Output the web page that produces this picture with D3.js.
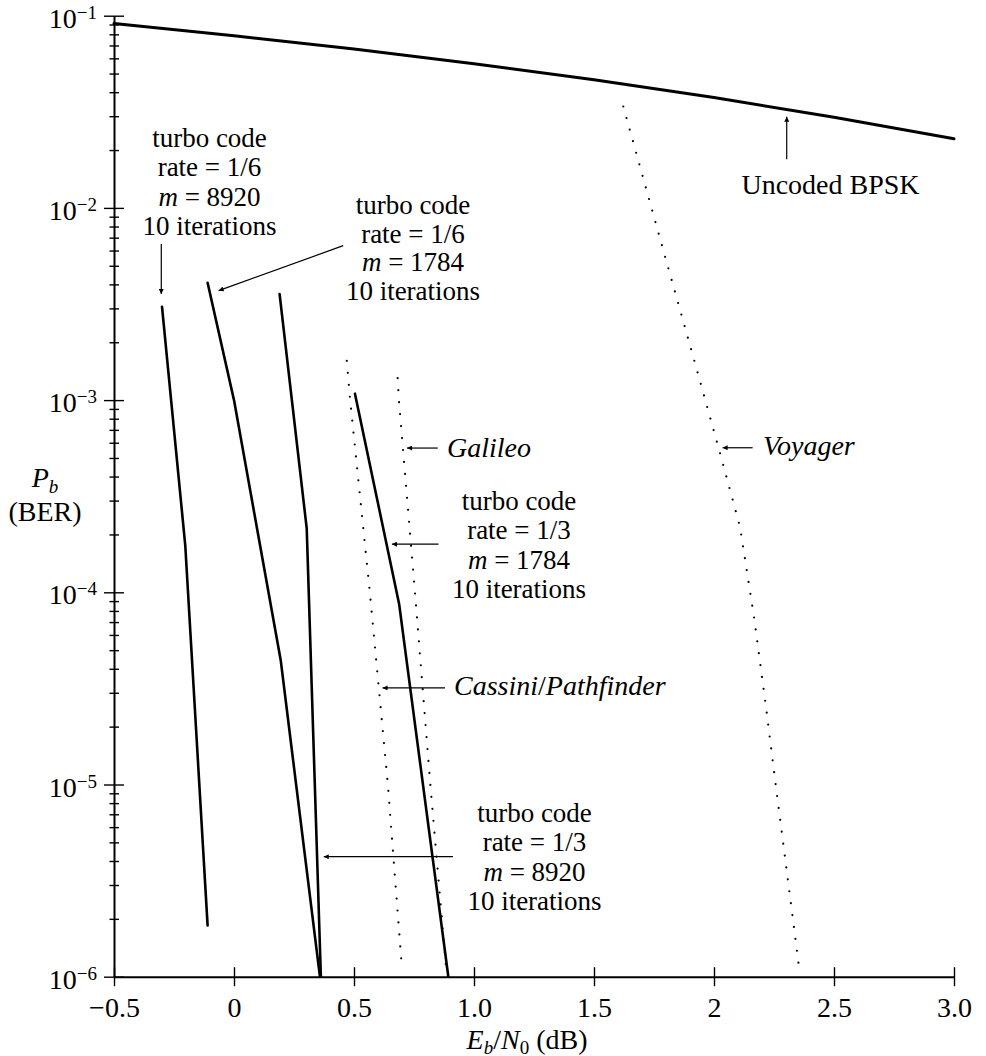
<!DOCTYPE html>
<html>
<head>
<meta charset="utf-8">
<script src="https://cdn.jsdelivr.net/npm/d3@7"></script>
<style>
  body { margin: 0; background: #fff; }
  svg text { font-family: "Liberation Serif", "Times New Roman", serif; fill: #000; }
</style>
</head>
<body>
<div id="root"></div>
<script>
// values: Eb/N0 in dB, bit error rate
const bpskEbN0 = [-0.5, 0, 0.5, 1.0, 1.5, 2.0, 2.5, 3.0];
const bpskBer = [0.091, 0.0786, 0.0671, 0.0563, 0.0464, 0.0375, 0.0296, 0.0229];

const turbo6m8920EbN0 = [-0.3, -0.203, -0.11];
const turbo6m8920Ber = [3.06e-3, 1.75e-4, 1.85e-6];

const turbo6m1784EbN0 = [-0.11, 0.0, 0.195, 0.358];
const turbo6m1784Ber = [4.08e-3, 1.0e-3, 4.4e-5, 1.0e-6];

const turbo3m8920EbN0 = [0.19, 0.303, 0.362];
const turbo3m8920Ber = [3.56e-3, 2.15e-4, 1.0e-6];

const turbo3m1784EbN0 = [0.504, 0.688, 0.893];
const turbo3m1784Ber = [1.08e-3, 8.7e-5, 1.0e-6];

const cassiniEbN0 = [0.47, 0.484, 0.566, 0.641, 0.70];
const cassiniBer = [1.6e-3, 1.0e-3, 1.0e-4, 1.0e-5, 1.1e-6];

const galileoEbN0 = [0.682, 0.687, 0.754, 0.818, 0.884];
const galileoBer = [1.3e-3, 1.0e-3, 1.0e-4, 1.0e-5, 1.1e-6];

const voyagerEbN0 = [1.622, 1.789, 1.914, 2.025, 2.108, 2.167, 2.219, 2.261, 2.317, 2.355];
const voyagerBer = [0.0337, 6.0e-3, 1.67e-3, 5.3e-4, 2.2e-4, 7.4e-5, 2.4e-5, 9.1e-6, 2.6e-6, 1.1e-6];

const xTicks = [-0.5, 0, 0.5, 1.0, 1.5, 2.0, 2.5, 3.0];
const xTickLabels = ["\u22120.5", "0", "0.5", "1.0", "1.5", "2", "2.5", "3.0"];

const width = 986;
const height = 1056;

const svg = d3
  .select("#root")
  .append("svg")
  .attr("width", width)
  .attr("height", height)
  .attr("viewBox", [0, 0, width, height]);

const x = d3.scaleLinear().domain([-0.5, 3.0]).range([114, 954]);
const y = d3.scaleLog().domain([1e-6, 1e-1]).range([976.7, 15.7]);

// arrowhead
svg
  .append("defs")
  .append("marker")
  .attr("id", "arrow")
  .attr("viewBox", "0 0 10 10")
  .attr("refX", 10)
  .attr("refY", 5)
  .attr("markerWidth", 8)
  .attr("markerHeight", 5)
  .attr("markerUnits", "userSpaceOnUse")
  .attr("orient", "auto")
  .append("path")
  .attr("d", "M0,0L10,5L0,10z")
  .attr("fill", "#000");

// x axis
const xAxis = svg
  .append("g")
  .attr("transform", `translate(0,${y(1e-6)})`)
  .call(
    d3
      .axisBottom(x)
      .tickValues(xTicks)
      .tickFormat((d, i) => xTickLabels[i])
      .tickSizeOuter(0)
  );
xAxis.select(".domain").attr("stroke", "#000").attr("stroke-width", 2);
xAxis
  .selectAll(".tick line")
  .attr("y1", -9.5)
  .attr("y2", 9.5)
  .attr("stroke", "#000")
  .attr("stroke-width", 1.4);
xAxis
  .selectAll(".tick text")
  .attr("y", 40)
  .attr("dy", null)
  .attr("font-size", 28)
  .attr("font-family", null);

// y axis, log decades with minor ticks
const yAxis = svg
  .append("g")
  .attr("transform", `translate(${x(-0.5)},0)`)
  .call(d3.axisLeft(y).tickValues(y.ticks()).tickFormat("").tickSizeOuter(0));
yAxis.select(".domain").attr("stroke", "#000").attr("stroke-width", 2);

const isMajor = (d) => Math.abs(Math.log10(d) - Math.round(Math.log10(d))) < 1e-9;

yAxis
  .selectAll(".tick line")
  .attr("x1", (d) => (isMajor(d) ? -10 : -4.5))
  .attr("x2", (d) => (isMajor(d) ? 10 : 5))
  .attr("stroke", "#000")
  .attr("stroke-width", 1.4);

const yLabel = yAxis
  .selectAll(".tick")
  .filter((d) => isMajor(d))
  .select("text")
  .attr("x", -17)
  .attr("y", 11.5)
  .attr("dy", null)
  .attr("font-size", 28)
  .attr("font-family", null)
  .attr("text-anchor", "end");
yLabel.append("tspan").text("10");
yLabel
  .append("tspan")
  .attr("dy", -9)
  .attr("font-size", 19)
  .text((d) => "\u2212" + Math.round(-Math.log10(d)));

// curves
const line = d3
  .line()
  .x((d) => x(d[0]))
  .y((d) => y(d[1]));

const series = [
  { ebn0: bpskEbN0, ber: bpskBer, dotted: false, w: 3 },
  { ebn0: turbo6m8920EbN0, ber: turbo6m8920Ber, dotted: false, w: 2.6 },
  { ebn0: turbo6m1784EbN0, ber: turbo6m1784Ber, dotted: false, w: 2.6 },
  { ebn0: turbo3m8920EbN0, ber: turbo3m8920Ber, dotted: false, w: 2.6 },
  { ebn0: turbo3m1784EbN0, ber: turbo3m1784Ber, dotted: false, w: 2.6 },
  { ebn0: cassiniEbN0, ber: cassiniBer, dotted: true, w: 2.2 },
  { ebn0: galileoEbN0, ber: galileoBer, dotted: true, w: 2.2 },
  { ebn0: voyagerEbN0, ber: voyagerBer, dotted: true, w: 2.2 },
];

svg
  .append("g")
  .selectAll("path")
  .data(series)
  .join("path")
  .attr("d", (s) => line(s.ebn0.map((v, i) => [v, s.ber[i]])))
  .attr("fill", "none")
  .attr("stroke", "#000")
  .attr("stroke-width", (s) => s.w)
  .attr("stroke-linejoin", "round")
  .attr("stroke-linecap", "round")
  .attr("stroke-dasharray", (s) => (s.dotted ? "0 12" : null));

// annotation arrows, tail -> tip in data units
const arrows = [
  [[-0.303, 6.49e-3], [-0.303, 3.56e-3]],
  [[0.455, 6.36e-3], [-0.064, 3.71e-3]],
  [[0.849, 5.63e-4], [0.721, 5.63e-4]],
  [[0.852, 1.78e-4], [0.658, 1.78e-4]],
  [[0.879, 3.18e-5], [0.619, 3.18e-5]],
  [[0.912, 4.21e-6], [0.374, 4.21e-6]],
  [[2.161, 5.65e-4], [2.036, 5.65e-4]],
  [[2.303, 1.79e-2], [2.303, 2.98e-2]],
];

svg
  .append("g")
  .selectAll("line")
  .data(arrows)
  .join("line")
  .attr("x1", (d) => x(d[0][0]))
  .attr("y1", (d) => y(d[0][1]))
  .attr("x2", (d) => x(d[1][0]))
  .attr("y2", (d) => y(d[1][1]))
  .attr("stroke", "#000")
  .attr("stroke-width", 1.2)
  .attr("marker-end", "url(#arrow)");

// multi-line turbo code labels: first baseline, even line step
function turboLabel(cx, top, step, rate, m) {
  const t = svg
    .append("text")
    .attr("x", cx)
    .attr("y", top)
    .attr("font-size", 27)
    .attr("text-anchor", "middle");
  t.append("tspan").attr("x", cx).attr("y", top).text("turbo code");
  t.append("tspan").attr("x", cx).attr("y", top + step).text(`rate = ${rate}`);
  t.append("tspan")
    .attr("x", cx)
    .attr("y", top + 2 * step)
    .attr("font-style", "italic")
    .text("m");
  t.append("tspan").text(` = ${m}`);
  t.append("tspan").attr("x", cx).attr("y", top + 3 * step).text("10 iterations");
}

turboLabel(209.5, 147, 29.3, "1/6", "8920");
turboLabel(413, 214, 28.7, "1/6", "1784");
turboLabel(519, 510, 29.3, "1/3", "1784");
turboLabel(534.5, 822, 29.3, "1/3", "8920");

// mission labels
svg
  .append("text")
  .attr("x", 447)
  .attr("y", 456.8)
  .attr("font-size", 28)
  .attr("font-style", "italic")
  .text("Galileo");

const cassini = svg
  .append("text")
  .attr("x", 454)
  .attr("y", 695)
  .attr("font-size", 28);
cassini.append("tspan").attr("font-style", "italic").text("Cassini");
cassini.append("tspan").text("/");
cassini.append("tspan").attr("font-style", "italic").text("Pathfinder");

svg
  .append("text")
  .attr("x", 763)
  .attr("y", 455)
  .attr("font-size", 28)
  .attr("font-style", "italic")
  .text("Voyager");

svg
  .append("text")
  .attr("x", 830.5)
  .attr("y", 194.3)
  .attr("font-size", 28)
  .attr("text-anchor", "middle")
  .text("Uncoded BPSK");

// axis titles
const yTitle = svg
  .append("text")
  .attr("x", 45)
  .attr("y", 487)
  .attr("font-size", 28)
  .attr("text-anchor", "middle");
yTitle.append("tspan").attr("font-style", "italic").text("P");
yTitle
  .append("tspan")
  .attr("font-style", "italic")
  .attr("font-size", 19)
  .attr("dy", 6)
  .text("b");
yTitle
  .append("tspan")
  .attr("x", 45)
  .attr("y", 521)
  .text("(BER)");

const xTitle = svg
  .append("text")
  .attr("x", 527)
  .attr("y", 1048.5)
  .attr("font-size", 28)
  .attr("text-anchor", "middle");
xTitle.append("tspan").attr("font-style", "italic").text("E");
xTitle
  .append("tspan")
  .attr("font-style", "italic")
  .attr("font-size", 19)
  .attr("dy", 5)
  .text("b");
xTitle.append("tspan").attr("dy", -5).text("/");
xTitle.append("tspan").attr("font-style", "italic").text("N");
xTitle
  .append("tspan")
  .attr("font-size", 19)
  .attr("dy", 5)
  .text("0");
xTitle.append("tspan").attr("dy", -5).text(" (dB)");
</script>
</body>
</html>
